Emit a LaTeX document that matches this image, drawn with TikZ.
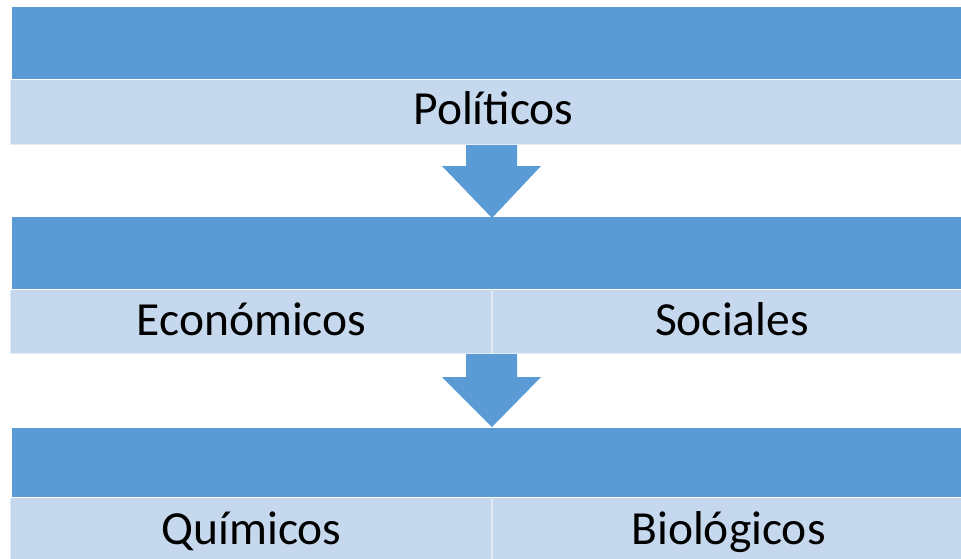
\documentclass[tikz,border=0pt]{standalone}
\usepackage{fontspec}
\setmainfont{Carlito}
\definecolor{dk}{RGB}{91,155,213}
\definecolor{lt}{RGB}{197,216,237}
\begin{document}
\begin{tikzpicture}[x=1pt,y=-1pt,
  darkbar/.style={fill=dk},
  lightbar/.style={fill=lt, draw=white, draw opacity=0.55, line width=1.4pt},
  divider/.style={draw=white, draw opacity=0.45, line width=1.8pt},
  lbl/.style={font=\fontsize{47.5}{56}\selectfont, anchor=base, inner sep=0pt, text=black},
  downarrow/.style={fill=dk}]
\useasboundingbox (0,0) rectangle (961,558);
% level 1
\path[darkbar] (12,7) rectangle (962,79);
\path[lightbar] (10,79.7) rectangle (962,145);
\node[lbl] (pol) at (493.5,124) {Políticos};
% arrow 1
\path[downarrow] (466,145) -- (517,145) -- (517,166) -- (541,166) -- (492,218) -- (442,166) -- (466,166) -- cycle;
% level 2
\path[darkbar] (12,217) rectangle (962,289);
\path[lightbar] (10,289.7) rectangle (962,354);
\draw[divider] (492,290.5) -- (492,353);
\node[lbl] (eco) at (251.5,335) {Económicos};
\node[lbl] (soc) at (732,335) {Sociales};
% arrow 2
\path[downarrow] (466,354) -- (517,354) -- (517,377) -- (541,377) -- (492,427) -- (442,377) -- (466,377) -- cycle;
% level 3
\path[darkbar] (12,428) rectangle (962,497);
\path[lightbar] (10,497.7) rectangle (962,560);
\draw[divider] (492,498.5) -- (492,560);
\node[lbl] (qui) at (251.5,544) {Químicos};
\node[lbl] (bio) at (728.5,544) {Biológicos};
\end{tikzpicture}
\end{document}
